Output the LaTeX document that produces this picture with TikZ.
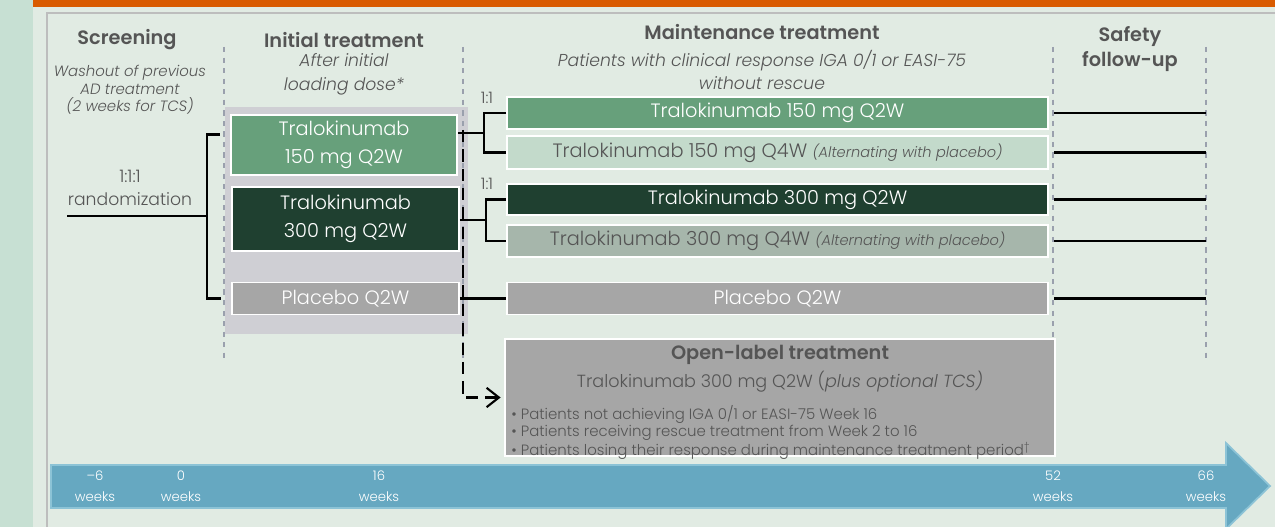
\documentclass[tikz,border=0pt]{standalone}
\usepackage{fontspec}
\setmainfont{Poppins}[UprightFont=* Light,ItalicFont=* Light Italic,BoldFont=* SemiBold,BoldItalicFont=* SemiBold Italic]
\usetikzlibrary{arrows.meta,calc}

\definecolor{mintstrip}{HTML}{C7E0D3}
\definecolor{panelbg}{HTML}{E1EBE3}
\definecolor{topbar}{HTML}{D95B00}
\definecolor{panelline}{HTML}{BDBDBD}
\definecolor{phasegray}{HTML}{9AA0AD}
\definecolor{initbg}{HTML}{CFCFD4}
\definecolor{greenmid}{HTML}{67A07B}
\definecolor{greenpale}{HTML}{C3DACB}
\definecolor{greendark}{HTML}{1F4030}
\definecolor{greengray}{HTML}{A6B6AB}
\definecolor{placebogray}{HTML}{A6A6A6}
\definecolor{textgray}{HTML}{555555}
\definecolor{weekblue}{HTML}{66A8C1}
\definecolor{weekedge}{HTML}{8CC3D6}

\begin{document}
\begin{tikzpicture}[x=0.02cm,y=-0.02cm,
  box/.style={draw=white,line width=1pt,inner sep=0pt,align=center,font=\fontsize{11}{16}\selectfont},
  head/.style={text=textgray,font=\bfseries\fontsize{11}{14.7}\selectfont,align=center},
  sub/.style={text=textgray,font=\itshape\fontsize{9.8}{13.5}\selectfont,align=center},
  link/.style={line width=1.2pt},
  phase/.style={draw=phasegray,dashed,line width=0.9pt},
  weeklabel/.style={text=white,font=\fontsize{7.5}{12}\selectfont,align=center}]

\useasboundingbox (0,0) rectangle (1275,527);

\fill[mintstrip] (0,0) rectangle (33,527);
\fill[panelbg] (33,7) rectangle (1275,527);
\fill[topbar] (33,0) rectangle (1275,7);
\draw[panelline,line width=1.2pt] (47,527) -- (47,13) -- (1275,13);

\fill[initbg] (225,107) rectangle (468,334);

\draw[phase] ( 224,47) -- ( 224,358);
\draw[phase] ( 463,47) -- ( 463,358);
\draw[phase] (1053,47) -- (1053,358);
\draw[phase] (1206,47) -- (1206,358);

\node[head] (screening) at (127,40) {Screening};
\node[sub,font=\itshape\fontsize{8.5}{10}\selectfont] (washout) at (130,90) {Washout of previous\\AD treatment\\(2 weeks for TCS)};
\node[head] (initial) at (344,40) {Initial treatment};
\node[sub] (loading) at (344,74) {After initial\\loading dose*};
\node[head] (maint) at (762,32) {Maintenance treatment};
\node[sub] (response) at (762,70) {Patients with clinical response IGA 0/1 or EASI-75\\without rescue};
\node[head] (safety) at (1130,49) {Safety\\follow-up};

\node[text=textgray,font=\fontsize{9.8}{13.5}\selectfont,align=center] (rnd) at (130,188) {1:1:1\\randomization};

\node[box,fill=greenmid,text=white,minimum width=226*0.02cm,minimum height=60*0.02cm] (i150) at (344,145) {Tralokinumab\\150 mg Q2W};
\node[box,fill=greendark,text=white,minimum width=227*0.02cm,minimum height=64*0.02cm] (i300) at (345.5,219) {Tralokinumab\\300 mg Q2W};
\node[box,fill=placebogray,text=white,minimum width=227*0.02cm,minimum height=32*0.02cm] (ipla) at (345.5,298.5) {Placebo Q2W};

\node[box,fill=greenmid,text=white,minimum width=541*0.02cm,minimum height=32*0.02cm] (m150) at (777.5,113) {Tralokinumab 150 mg Q2W};
\node[box,fill=greenpale,text=textgray,minimum width=541*0.02cm,minimum height=33*0.02cm] (m150q4) at (777.5,152.5) {Tralokinumab 150 mg Q4W {\itshape\fontsize{8.3}{9}\selectfont(Alternating with placebo)}};
\node[box,fill=greendark,text=white,minimum width=541*0.02cm,minimum height=31*0.02cm] (m300) at (777.5,199.5) {Tralokinumab 300 mg Q2W};
\node[box,fill=greengray,text=textgray,minimum width=541*0.02cm,minimum height=32*0.02cm] (m300q4) at (777.5,241) {Tralokinumab 300 mg Q4W {\itshape\fontsize{8.3}{9}\selectfont(Alternating with placebo)}};
\node[box,fill=placebogray,text=white,minimum width=541*0.02cm,minimum height=32*0.02cm] (mpla) at (777.5,298.5) {Placebo Q2W};

\node[box,fill=placebogray,minimum width=550*0.02cm,minimum height=117*0.02cm] (openlabel) at (780,397.5) {};
\node[head] (oltitle) at (780,355) {Open-label treatment};
\node[text=textgray,font=\fontsize{10}{12}\selectfont] (oldose) at (780,382) {Tralokinumab 300 mg Q2W (\textit{plus optional TCS)}};
\node[text=textgray,font=\fontsize{8.5}{9.6}\selectfont,align=left,anchor=north west,inner sep=0pt] (olreasons) at (511,405)
  {• Patients not achieving IGA 0/1 or EASI-75 Week 16\\
   • Patients receiving rescue treatment from Week 2 to 16\\
   • Patients losing their response during maintenance treatment period\textsuperscript{\dag}};

\coordinate (rndstart) at ( 67,216);
\coordinate (rndbrk)   at (207,216);
\draw[link] (rndstart) -- (rndbrk);
\draw[link] ([xshift=-6pt,yshift=6pt]i150.west) -| (rndbrk) |- ([xshift=-6pt]ipla.west);

\coordinate (brk150) at ($(m150.west)!0.5!(m150q4.west)+(-22,0)$);
\coordinate (brk300) at ($(m300.west)!0.5!(m300q4.west)+(-20,0)$);
\draw[link] (m150.west) -| (brk150) |- (m150q4.west);
\draw[link] (i150.east |- brk150) -- (brk150);
\draw[link] (m300.west) -| (brk300) |- (m300q4.west);
\draw[link] (i300.east |- brk300) -- (brk300);
\draw[link] (ipla.east) -- (mpla.west);

\node[text=textgray,font=\fontsize{9}{10}\selectfont] at (487,98) {1:1};
\node[text=textgray,font=\fontsize{9}{10}\selectfont] at (487,184) {1:1};

\coordinate (fuend) at (1206,0);
\foreach \arm in {m150,m150q4,m300,m300q4,mpla}
  \draw[link] ([xshift=3pt]\arm.east) -- (\arm.east -| fuend);

\coordinate (rescue) at (463,130);
\draw[link,dash pattern=on 7pt off 4pt,-{Straight Barb[length=7pt,width=11pt]}] (rescue) |- ([xshift=-2pt]openlabel.west);

\filldraw[fill=weekblue,draw=weekedge,line width=1pt]
    (  51,465) -- (1226,465) -- (1226,443) -- (1270,486)
 -- (1226,529) -- (1226,508) -- (  51,508) -- cycle;

\node[weeklabel] at (  95,486.5) {–6\\weeks};
\node[weeklabel] at ( 181,486.5) {0\\weeks};
\node[weeklabel] at ( 379,486.5) {16\\weeks};
\node[weeklabel] at (1053,486.5) {52\\weeks};
\node[weeklabel] at (1206,486.5) {66\\weeks};

\end{tikzpicture}
\end{document}
